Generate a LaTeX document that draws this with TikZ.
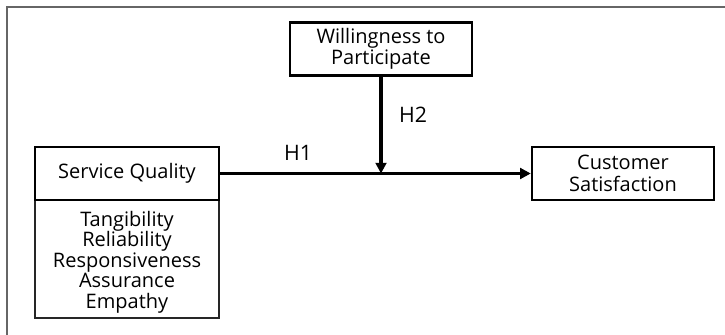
\documentclass[tikz,border=0pt]{standalone}
\usepackage{fontspec}
\setmainfont{Open Sans}
\usetikzlibrary{arrows.meta}
\begin{document}
\begin{tikzpicture}[x=0.75pt,y=-0.75pt,
  bold box/.style={draw=black,line width=1.8pt,inner sep=0pt},
  thin box/.style={draw=black!85,line width=0.9pt,inner sep=0pt},
  lbl/.style={font=\fontsize{15}{16.2}\selectfont,text=black,align=center},
  conn/.style={line width=2.3pt,-{Triangle[length=8pt,width=8pt]}}]
\useasboundingbox (0,0) rectangle (725,335);
\draw[black!60,line width=0.8pt] (7,335) -- (7,7) -- (725,7);
% boxes
\node[thin box,minimum width=138pt,minimum height=88.5pt] (dims) at (127,259) {};
\node[lbl,font=\fontsize{15}{15.4}\selectfont] (dimstext) at (127,262) {Tangibility\\Reliability\\Responsiveness\\Assurance\\Empathy};
\node[bold box,lbl,minimum width=138pt,minimum height=39.75pt] (sq) at (127,173.5) {Service Quality};
\node[bold box,lbl,minimum width=136.5pt,minimum height=39.75pt] (wtp) at (381,49) {Willingness to\\Participate};
\node[bold box,lbl,minimum width=136.5pt,minimum height=39.75pt] (cs) at (623,173.5) {Customer\\Satisfaction};
\coordinate (mid) at (wtp.south |- sq.east);
\draw[conn] (sq.east) -- (cs.west);
\draw[conn] (wtp.south) -- (mid);
\node[lbl,font=\fontsize{16}{18}\selectfont] (h1) at (298,153) {H1};
\node[lbl,font=\fontsize{16}{18}\selectfont] (h2) at (413,115) {H2};
\end{tikzpicture}
\end{document}
